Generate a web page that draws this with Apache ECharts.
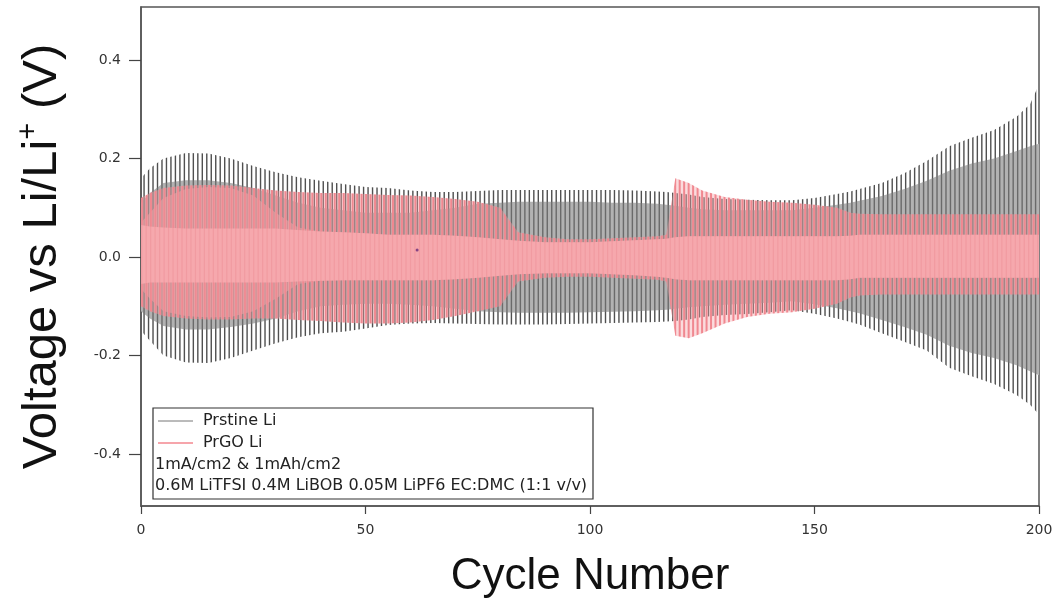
<!DOCTYPE html>
<html>
<head>
<meta charset="utf-8">
<script src="https://cdn.jsdelivr.net/npm/echarts@6/dist/echarts.min.js"></script>
<style>
  html, body { margin: 0; padding: 0; background: #fff; }
  #chart { width: 1058px; height: 604px; }
</style>
</head>
<body>
<div id="chart"></div>
<script>
const cycles = [0, 2, 5, 10, 15, 20, 25, 30, 35, 40, 45, 50, 55, 60, 65, 70, 75, 80, 84, 90,
  95, 100, 105, 110, 115, 117, 119, 122, 125, 130, 135, 140, 145, 150, 155, 158, 160, 165, 170, 175,
  180, 185, 190, 195, 198, 200];

// Prstine Li: tips of the voltage spikes
const pristineHi = [0.16, 0.18, 0.2, 0.211, 0.21, 0.2, 0.185, 0.172, 0.162, 0.155, 0.148, 0.142, 0.14, 0.135, 0.132, 0.132, 0.134, 0.136, 0.136, 0.136,
  0.136, 0.136, 0.136, 0.135, 0.133, 0.132, 0.13, 0.127, 0.122, 0.118, 0.116, 0.115, 0.115, 0.12, 0.128, 0.133, 0.138, 0.15, 0.17, 0.195,
  0.225, 0.242, 0.258, 0.285, 0.31, 0.35];
const pristineLo = [-0.15, -0.17, -0.2, -0.214, -0.215, -0.205, -0.19, -0.175, -0.163, -0.155, -0.152, -0.145, -0.138, -0.135, -0.134, -0.135, -0.136, -0.137, -0.137, -0.137,
  -0.136, -0.135, -0.134, -0.133, -0.132, -0.131, -0.13, -0.127, -0.122, -0.118, -0.116, -0.112, -0.108, -0.115, -0.125, -0.132, -0.137, -0.155, -0.172, -0.19,
  -0.225, -0.242, -0.258, -0.28, -0.3, -0.32];
// Prstine Li: plateau (dense filled part)
const pristinePlatHi = [0.11, 0.13, 0.15, 0.156, 0.156, 0.15, 0.14, 0.125, 0.11, 0.1, 0.095, 0.09, 0.09, 0.09, 0.095, 0.1, 0.108, 0.11, 0.112, 0.112,
  0.112, 0.112, 0.11, 0.11, 0.108, 0.106, 0.104, 0.1, 0.097, 0.095, 0.095, 0.095, 0.095, 0.1, 0.106, 0.11, 0.114, 0.124, 0.138, 0.155,
  0.175, 0.19, 0.2, 0.215, 0.225, 0.23];
const pristinePlatLo = [-0.11, -0.125, -0.14, -0.147, -0.147, -0.142, -0.135, -0.125, -0.11, -0.1, -0.097, -0.095, -0.095, -0.097, -0.1, -0.105, -0.11, -0.112, -0.113, -0.113,
  -0.113, -0.112, -0.111, -0.11, -0.108, -0.107, -0.105, -0.102, -0.1, -0.097, -0.095, -0.093, -0.09, -0.096, -0.104, -0.11, -0.114, -0.128, -0.142, -0.158,
  -0.18, -0.195, -0.205, -0.22, -0.232, -0.24];

// PrGO Li: spike tips
const prgoHi = [0.12, 0.13, 0.14, 0.145, 0.146, 0.145, 0.14, 0.135, 0.132, 0.13, 0.13, 0.128, 0.126, 0.125, 0.122, 0.118, 0.112, 0.1, 0.05, 0.04,
  0.036, 0.036, 0.038, 0.04, 0.042, 0.045, 0.16, 0.15, 0.135, 0.122, 0.116, 0.112, 0.11, 0.106, 0.1, 0.09, 0.088, 0.087, 0.087, 0.087,
  0.087, 0.087, 0.087, 0.087, 0.087, 0.087];
const prgoLo = [-0.1, -0.11, -0.12, -0.125, -0.127, -0.127, -0.125, -0.125, -0.128, -0.13, -0.133, -0.135, -0.135, -0.133, -0.128, -0.12, -0.11, -0.1, -0.05, -0.042,
  -0.04, -0.04, -0.042, -0.044, -0.046, -0.05, -0.16, -0.165, -0.155, -0.135, -0.122, -0.115, -0.112, -0.105, -0.095, -0.082, -0.078, -0.076, -0.076, -0.076,
  -0.076, -0.076, -0.076, -0.076, -0.076, -0.076];
// PrGO Li: plateau (the lens of the first ~35 cycles)
const prgoPlatHi = [0.07, 0.09, 0.12, 0.138, 0.142, 0.14, 0.125, 0.09, 0.06, 0.052, 0.05, 0.048, 0.045, 0.045, 0.045, 0.043, 0.04, 0.036, 0.033, 0.03,
  0.03, 0.03, 0.032, 0.034, 0.036, 0.037, 0.04, 0.042, 0.042, 0.042, 0.042, 0.042, 0.042, 0.042, 0.042, 0.043, 0.045, 0.045, 0.045, 0.045,
  0.045, 0.045, 0.045, 0.045, 0.045, 0.045];
const prgoPlatLo = [-0.065, -0.085, -0.11, -0.12, -0.123, -0.122, -0.11, -0.085, -0.055, -0.048, -0.047, -0.047, -0.047, -0.047, -0.047, -0.045, -0.042, -0.038, -0.035, -0.033,
  -0.033, -0.033, -0.035, -0.037, -0.04, -0.042, -0.045, -0.047, -0.047, -0.047, -0.047, -0.047, -0.047, -0.047, -0.047, -0.045, -0.042, -0.042, -0.042, -0.042,
  -0.042, -0.042, -0.042, -0.042, -0.042, -0.042];
// PrGO Li: solid core
const prgoCoreHi = [0.065, 0.062, 0.06, 0.058, 0.058, 0.058, 0.058, 0.058, 0.055, 0.052, 0.05, 0.048, 0.045, 0.045, 0.045, 0.043, 0.04, 0.036, 0.033, 0.03,
  0.03, 0.03, 0.032, 0.034, 0.036, 0.037, 0.04, 0.042, 0.042, 0.042, 0.042, 0.042, 0.042, 0.042, 0.042, 0.043, 0.045, 0.045, 0.045, 0.045,
  0.045, 0.045, 0.045, 0.045, 0.045, 0.045];
const prgoCoreLo = [-0.055, -0.052, -0.052, -0.052, -0.052, -0.052, -0.052, -0.052, -0.05, -0.048, -0.047, -0.047, -0.047, -0.047, -0.047, -0.045, -0.042, -0.038, -0.035, -0.033,
  -0.033, -0.033, -0.035, -0.037, -0.04, -0.042, -0.045, -0.047, -0.047, -0.047, -0.047, -0.047, -0.047, -0.047, -0.047, -0.045, -0.042, -0.042, -0.042, -0.042,
  -0.042, -0.042, -0.042, -0.042, -0.042, -0.042];

const strayPoint = [[61.5, 0.014]];

const xTicks = [0, 50, 100, 150, 200];
const yTicks = [-0.4, -0.2, 0.0, 0.2, 0.4];

const legendLines = ['1mA/cm2 & 1mAh/cm2', '0.6M LiTFSI 0.4M LiBOB 0.05M LiPF6 EC:DMC (1:1 v/v)'];

// one vertical stroke per cycle (~4.48 px apart) as a repeating fill
function stripes(bg, line, w, shift) {
  const cv = document.createElement('canvas');
  cv.width = 112; cv.height = 4;
  const g = cv.getContext('2d');
  if (bg) { g.fillStyle = bg; g.fillRect(0, 0, 112, 4); }
  g.fillStyle = line;
  for (let i = 0; i < 25; i++) g.fillRect(i * 4.48 + shift, 0, w, 4);
  return { image: cv, repeat: 'repeat' };
}

// a filled band between lo and hi, drawn as one polygon through the axes
function band(lo, hi, fill) {
  return {
    type: 'custom',
    coordinateSystem: 'cartesian2d',
    silent: true,
    data: cycles.map((c, i) => [c, lo[i], hi[i]]),
    encode: { x: 0, y: [1, 2] },
    renderItem: (params, api) => {
      if (params.dataIndex !== 0) return null;
      const top = cycles.map((c, i) => api.coord([c, hi[i]]));
      const bottom = cycles.map((c, i) => api.coord([c, lo[i]])).reverse();
      return { type: 'polygon', shape: { points: top.concat(bottom) }, style: { fill: fill } };
    }
  };
}

const chart = echarts.init(document.getElementById('chart'));

const series = [
  band(pristineLo, pristineHi, stripes(null, '#505050', 1.4, 0)),
  band(pristinePlatLo, pristinePlatHi, stripes('#b2b2b2', '#6a6a6a', 1.4, 0)),
  band(prgoLo, prgoHi, stripes('rgba(246,165,170,0.4)', '#f08890', 2, 2.2)),
  band(prgoPlatLo, prgoPlatHi, stripes('rgba(246,160,166,0.55)', '#ee8a92', 1.6, 2.2)),
  band(prgoCoreLo, prgoCoreHi, stripes('#f6a8ad', '#f19ba1', 1.2, 2.2)),
  { type: 'scatter', data: strayPoint, symbolSize: 3, itemStyle: { color: '#6a2a7a' }, silent: true }
];

chart.setOption({
  animation: false,
  backgroundColor: '#fff',
  grid: [
    { left: 141, top: 7, width: 898, height: 499, show: true, borderColor: '#555', borderWidth: 1.5 },
    { left: 141, top: 60, width: 898, height: 394 }
  ],
  xAxis: [
    {
      type: 'value', gridIndex: 0, min: xTicks[0], max: xTicks[xTicks.length - 1], interval: 50,
      splitLine: { show: false },
      axisLine: { onZero: false, lineStyle: { color: '#555', width: 1.5 } },
      axisTick: { inside: false, length: 8, lineStyle: { color: '#444', width: 1.2 } },
      axisLabel: { color: '#333', fontSize: 14, fontFamily: 'DejaVu Sans', margin: 17 },
      name: 'Cycle Number', nameLocation: 'middle', nameGap: 49,
      nameTextStyle: { fontSize: 44, fontFamily: 'Liberation Sans', color: '#111' }
    },
    { type: 'value', gridIndex: 1, min: 0, max: 200, show: false }
  ],
  yAxis: [
    {
      type: 'value', gridIndex: 0, min: -0.5056, max: 0.5076,
      splitLine: { show: false },
      axisLine: { onZero: false, lineStyle: { color: '#555', width: 1.5 } },
      axisTick: { show: false }, axisLabel: { show: false },
      name: 'Voltage vs Li/Li{sup|+} (V)', nameLocation: 'middle', nameGap: 70,
      nameTextStyle: {
        fontSize: 49, fontFamily: 'Liberation Sans', color: '#111',
        rich: { sup: { fontSize: 29, fontFamily: 'Liberation Sans', color: '#111', verticalAlign: 'top', padding: [0, 0, 28, 0] } }
      }
    },
    {
      type: 'value', gridIndex: 1, min: yTicks[0], max: yTicks[yTicks.length - 1], interval: 0.2,
      splitLine: { show: false },
      axisLine: { show: false, onZero: false },
      axisTick: { length: 12, lineStyle: { color: '#444', width: 1.2 } },
      axisLabel: { color: '#333', fontSize: 14, fontFamily: 'DejaVu Sans', margin: 20,
        formatter: v => v.toFixed(1) }
    }
  ],
  series: series,
  graphic: [
    { type: 'rect', z: 100, shape: { x: 153, y: 408, width: 440, height: 91 },
      style: { fill: '#fff', stroke: '#333', lineWidth: 1.2 } },
    { type: 'line', z: 101, shape: { x1: 158, y1: 421, x2: 193, y2: 421 }, style: { stroke: '#777', lineWidth: 1 } },
    { type: 'line', z: 101, shape: { x1: 158, y1: 443, x2: 193, y2: 443 }, style: { stroke: '#f6a5ab', lineWidth: 2 } },
    { type: 'text', z: 101, x: 203, y: 421, style: { text: 'Prstine Li', fill: '#222', font: '16px "DejaVu Sans"', verticalAlign: 'middle' } },
    { type: 'text', z: 101, x: 203, y: 443, style: { text: 'PrGO Li', fill: '#222', font: '16px "DejaVu Sans"', verticalAlign: 'middle' } },
    { type: 'text', z: 101, x: 155, y: 465, style: { text: legendLines[0], fill: '#222', font: '16px "DejaVu Sans"', verticalAlign: 'middle' } },
    { type: 'text', z: 101, x: 155, y: 486, style: { text: legendLines[1], fill: '#222', font: '16px "DejaVu Sans"', verticalAlign: 'middle' } }
  ]
});
</script>
</body>
</html>
